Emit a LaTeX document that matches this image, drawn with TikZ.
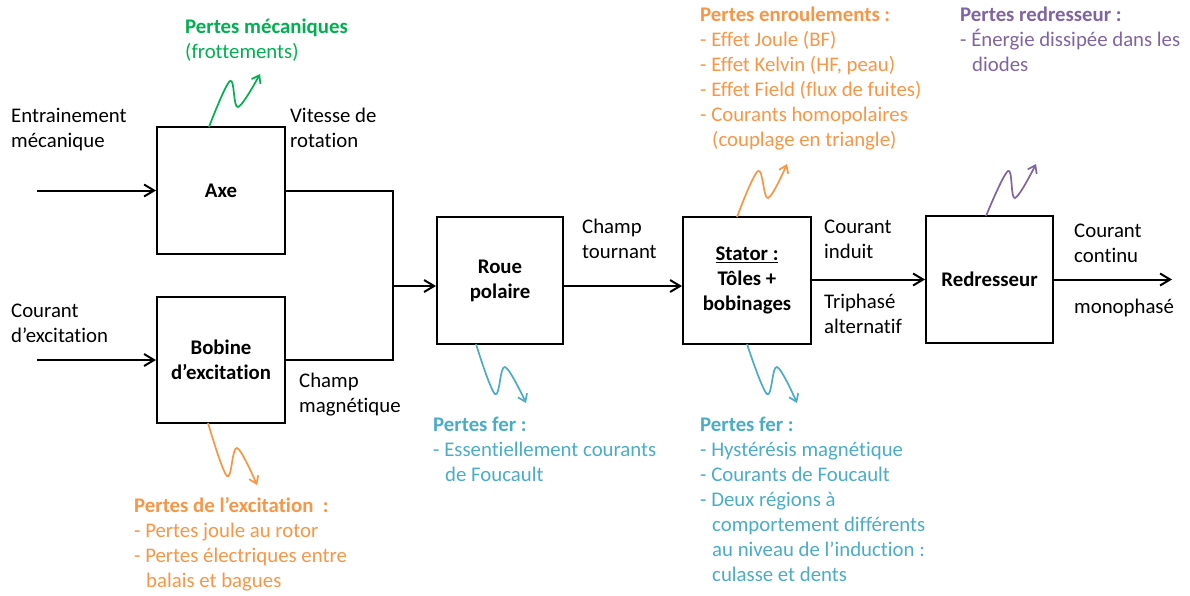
\documentclass[tikz,border=0pt]{standalone}
\usepackage{fontspec}
\setmainfont{Carlito}[RawFeature=-liga]
\usetikzlibrary{arrows.meta}
\definecolor{cgreen}{HTML}{00B050}
\definecolor{corange}{HTML}{F79646}
\definecolor{cblue}{HTML}{4BACC6}
\definecolor{cpurple}{HTML}{8064A2}
\begin{document}
\begin{tikzpicture}[x=1pt,y=-1pt,
  box/.style={draw,line width=2pt,minimum width=128pt,minimum height=127pt,inner sep=0pt,
    font=\fontsize{20.8}{25}\selectfont\bfseries,align=center},
  lbl/.style={anchor=base west,inner sep=0pt,align=left,font=\fontsize{20.8}{25}\selectfont},
  arr/.style={line width=2pt,-{Straight Barb[length=10pt,width=12pt]}},
  ln/.style={line width=2pt},
  warr/.style={line width=1.7pt,-{Straight Barb[length=7pt,width=10pt]}}]
\useasboundingbox (0,0) rectangle (1190,595);
% boxes
\node[box] (axe) at (221,190.5) {Axe};
\node[box,minimum height=126pt] (bob) at (221,360) {Bobine\\d’excitation};
\node[box,minimum width=126pt] (roue) at (500,280.5) {Roue\\polaire};
\node[box] (stator) at (747,280.5) {\underline{Stator :}\\Tôles +\\bobinages};
\node[box,minimum width=127pt] (red) at (989.5,279.5) {Redresseur};
% coordinates
\coordinate (inA) at (37,190.5);
\coordinate (inB) at (37,360);
\coordinate (j) at (393,286);
\coordinate (out) at (1172,279.5);
% connectors
\draw[arr] (inA) -- (axe.west);
\draw[arr] (inB) -- (bob.west);
\draw[ln] (axe.east) -| (j);
\draw[ln] (bob.east) -| (j);
\draw[arr] (j) -- (j -| roue.west);
\draw[arr] (j -| roue.east) -- (j -| stator.west);
\draw[arr] (red.west -| stator.east) -- (red.west);
\draw[arr] (red.east) -- (out);
% black labels (anchor = baseline of last line)
\node[lbl] (t1) at (11,147) {Entrainement\\mécanique};
\node[lbl] (t2) at (290,147) {Vitesse de\\rotation};
\node[lbl] (t3) at (11,342) {Courant\\d’excitation};
\node[lbl] (t4) at (299,412) {Champ\\magnétique};
\node[lbl] (t5) at (582,258) {Champ\\tournant};
\node[lbl] (t6) at (824,258) {Courant\\induit};
\node[lbl] (t7) at (824,333) {Triphasé\\alternatif};
\node[lbl] (t8) at (1074,262) {Courant\\continu};
\node[lbl] (t9) at (1074,313) {monophasé};
% wavy loss arrows
\coordinate (g0) at (209,127);
\draw[warr,cgreen] plot[smooth,tension=0.6] coordinates {(g0) (230,81) (238,107) (260,74)};
\coordinate (o0) at (208,423);
\draw[warr,corange] plot[smooth,tension=0.6] coordinates {(o0) (227,476) (237,448) (257,485)};
\coordinate (b0) at (476,344);
\draw[warr,cblue] plot[smooth,tension=0.6] coordinates {(b0) (495,394) (505,367) (526,403)};
\coordinate (b1) at (747,344);
\draw[warr,cblue] plot[smooth,tension=0.6] coordinates {(b1) (767,394) (777,367) (797,403)};
\coordinate (o1) at (737,217);
\draw[warr,corange] plot[smooth,tension=0.6] coordinates {(o1) (758,171) (768,198) (787,164)};
\coordinate (p0) at (986,216);
\draw[warr,cpurple] plot[smooth,tension=0.6] coordinates {(p0) (1008,171) (1015,198) (1036,164)};
% coloured texts
\node[lbl,text=cgreen] (l1) at (185,58) {\textbf{Pertes mécaniques}\\(frottements)};
\node[lbl,text=corange] (l2) at (134,587) {\textbf{Pertes de l’excitation\ \ :}\\- Pertes joule au rotor\\- Pertes électriques entre\\\hspace*{12pt}balais et bagues};
\node[lbl,text=cblue] (l3) at (433,481) {\textbf{Pertes fer :}\\- Essentiellement courants\\\hspace*{12pt}de Foucault};
\node[lbl,text=cblue] (l4) at (700,581) {\textbf{Pertes fer :}\\- Hystérésis magnétique\\- Courants de Foucault\\- Deux régions à\\\hspace*{12pt}comportement différents\\\hspace*{12pt}au niveau de l’induction :\\\hspace*{12pt}culasse et dents};
\node[lbl,text=corange] (l5) at (700,146) {\textbf{Pertes enroulements :}\\- Effet Joule (BF)\\- Effet Kelvin (HF, peau)\\- Effet Field (flux de fuites)\\- Courants homopolaires\\\hspace*{12pt}(couplage en triangle)};
\node[lbl,text=cpurple] (l6) at (960,71) {\textbf{Pertes redresseur :}\\- Énergie dissipée dans les\\\hspace*{12pt}diodes};
\end{tikzpicture}
\end{document}
